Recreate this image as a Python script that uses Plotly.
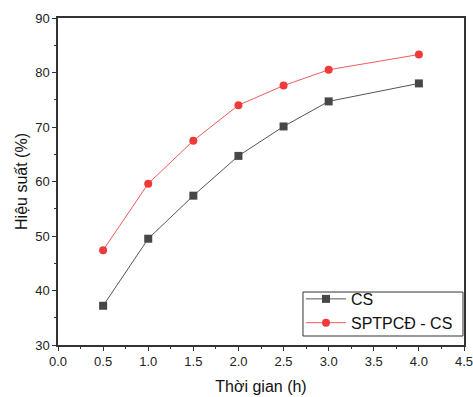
import plotly.graph_objects as go

time_h = [0.5, 1.0, 1.5, 2.0, 2.5, 3.0, 4.0]
cs_yield = [37.2, 49.5, 57.4, 64.7, 70.1, 74.7, 78.0]
sptpcd_yield = [47.4, 59.6, 67.5, 74.0, 77.6, 80.5, 83.3]

fig = go.Figure()
fig.add_trace(go.Scatter(
    x=time_h, y=cs_yield, name="CS", mode="lines+markers",
    line=dict(color="#555555", width=1),
    marker=dict(symbol="square", size=8, color="#474747"),
))
fig.add_trace(go.Scatter(
    x=time_h, y=sptpcd_yield, name="SPTPCĐ - CS", mode="lines+markers",
    line=dict(color="#f25a5a", width=1),
    marker=dict(symbol="circle", size=8, color="#f03a3a"),
))

axis_common = dict(
    showline=True, linecolor="#333333", linewidth=1.5, mirror=True,
    ticks="outside", ticklen=4, tickwidth=1, tickcolor="#333333",
    showgrid=False, zeroline=False, automargin=False,
    ticklabeloverflow="allow",
    tickfont=dict(family="Liberation Sans, Arial", size=13, color="#222222"),
    title_font=dict(family="Liberation Sans, Arial", size=16, color="#111111"),
)

fig.update_xaxes(
    range=[0, 4.5], dtick=0.5, tick0=0, tickformat=".1f",
    title_text="Thời gian (h)", title_standoff=12,
    minor=dict(ticks="outside", ticklen=2, dtick=0.25, tickcolor="#333333"),
    **axis_common,
)
fig.update_yaxes(
    range=[30, 90], dtick=10, tick0=30,
    title_text="Hiệu suất (%)", title_standoff=4,
    minor=dict(ticks="outside", ticklen=2, dtick=5, tickcolor="#333333"),
    **axis_common,
)

# legend frame
fig.add_shape(
    type="rect", xref="paper", yref="paper",
    x0=0.6034, x1=0.9975, y0=0.0275, y1=0.162,
    line=dict(color="#333333", width=1), fillcolor="white", layer="above",
)

fig.update_layout(
    width=473, height=397,
    margin=dict(l=58, r=9, t=18, b=52),
    plot_bgcolor="white", paper_bgcolor="white",
    showlegend=True,
    legend=dict(
        x=0.5985, y=0.1927, xanchor="left", yanchor="top",
        borderwidth=0, bgcolor="rgba(0,0,0,0)",
        font=dict(family="Liberation Sans, Arial", size=16, color="#111111"),
        tracegroupgap=0, itemwidth=40,
    ),
)

fig.write_html("out.html")
